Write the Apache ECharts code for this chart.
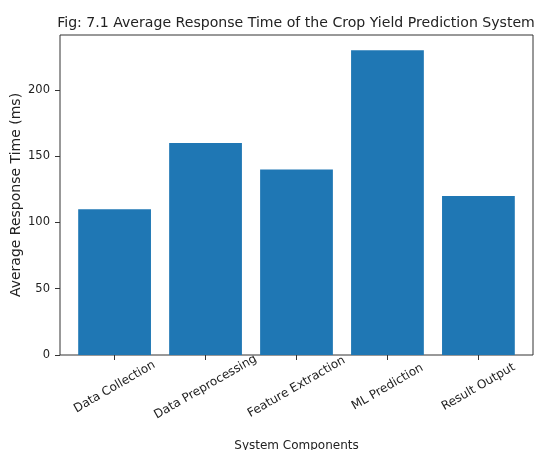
<!DOCTYPE html>
<html>
<head>
<meta charset="utf-8">
<script src="https://cdn.jsdelivr.net/npm/echarts@6/dist/echarts.min.js"></script>
<style>html,body{margin:0;padding:0;background:#fff}#c{width:539px;height:450px}</style>
</head>
<body>
<div id="c"></div>
<script>
var categories = ['Data Collection', 'Data Preprocessing', 'Feature Extraction', 'ML Prediction', 'Result Output'];
var responseTimes = [110, 160, 140, 230, 120];
var yTicks = [0, 50, 100, 150, 200];

var FONT = 'DejaVu Sans';
var TXT = '#222';
var chart = echarts.init(document.getElementById('c'), null, {renderer: 'canvas'});
chart.setOption({
  animation: false,
  backgroundColor: '#fff',
  title: {
    text: 'Fig: 7.1 Average Response Time of the Crop Yield Prediction System',
    left: 291, top: 11, textAlign: 'center',
    textStyle: {fontFamily: FONT, fontSize: 14.1, fontWeight: 'normal', color: TXT}
  },
  grid: [
    {left: 60, right: 6, top: 35, bottom: 95, show: true, borderColor: '#333', borderWidth: 1,
     backgroundColor: 'transparent', containLabel: false, outerBoundsMode: 'none'},
    {left: 69.1, right: 15.1, top: 35, bottom: 95, containLabel: false, outerBoundsMode: 'none'}
  ],
  xAxis: [
    {gridIndex: 0, type: 'value', show: false, min: 0, max: 1},
    {
      gridIndex: 1, type: 'category', data: categories,
      name: 'System Components', nameLocation: 'middle', nameGap: 85, nameMoveOverlap: false,
      nameTextStyle: {fontFamily: FONT, fontSize: 12, color: TXT},
      axisLine: {show: false},
      axisTick: {show: true, alignWithLabel: true, inside: false, length: 5, lineStyle: {color: '#333'}},
      axisLabel: {rotate: 30, align: 'center', verticalAlign: 'middle', margin: 32, interval: 0,
        fontFamily: FONT, fontSize: 12, color: TXT},
      splitLine: {show: false}
    }
  ],
  yAxis: [
    {gridIndex: 0, type: 'value', show: false, min: 0, max: 1},
    {
      gridIndex: 1, type: 'value', min: 0, max: 241.5, interval: 50, offset: 9.1,
      name: 'Average Response Time (ms)', nameLocation: 'middle', nameGap: 37, nameMoveOverlap: false,
      nameTextStyle: {fontFamily: FONT, fontSize: 14, color: TXT},
      axisLine: {show: false},
      axisTick: {show: true, inside: false, length: 5, lineStyle: {color: '#333'}},
      axisLabel: {showMaxLabel: false, margin: 10, fontFamily: FONT, fontSize: 11.5, color: TXT,
        formatter: function (v) { return yTicks.indexOf(v) >= 0 ? String(v) : ''; }},
      splitLine: {show: false}
    }
  ],
  series: [{
    type: 'bar', xAxisIndex: 1, yAxisIndex: 1,
    data: responseTimes, barWidth: '80%',
    itemStyle: {color: '#1f77b4'}
  }]
});
</script>
</body>
</html>
